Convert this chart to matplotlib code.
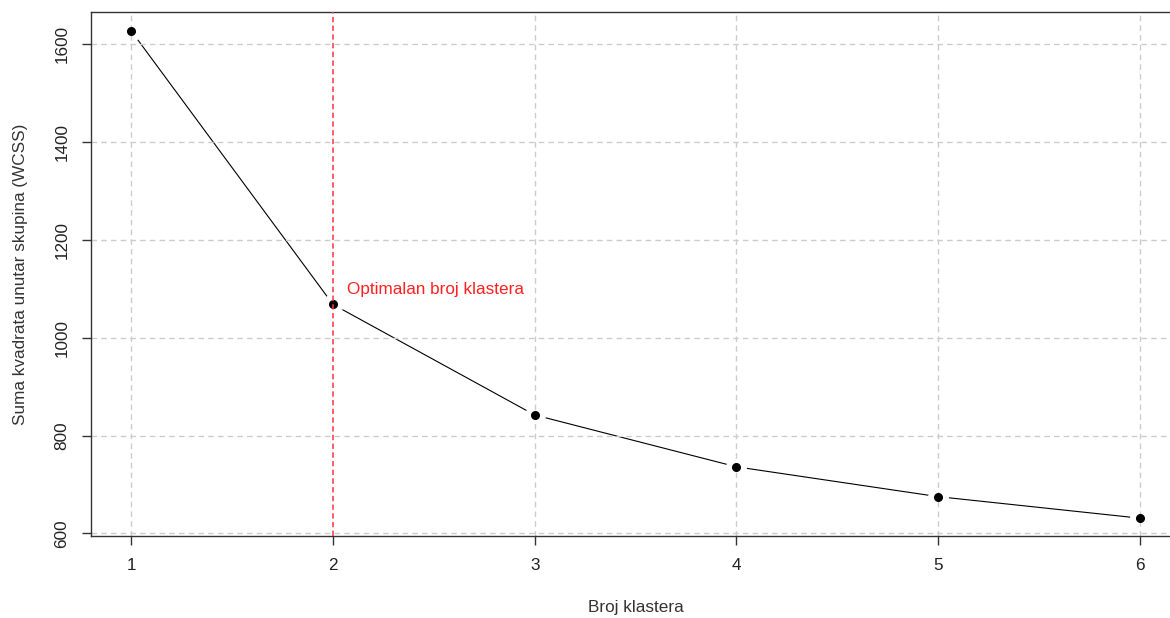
import matplotlib
matplotlib.use('Agg')
import matplotlib.pyplot as plt

# elbow data
k = [1, 2, 3, 4, 5, 6]
wcss = [1627, 1068, 842, 736, 675, 631]
x_ticks = [1, 2, 3, 4, 5, 6]
y_ticks = [600, 800, 1000, 1200, 1400, 1600]
optimal_k = 2

plt.rcParams['font.family'] = ['Liberation Sans', 'DejaVu Sans']
fs = 12.3

fig = plt.figure(figsize=(11.7, 6.18), dpi=100)
ax = fig.add_axes([91 / 1170, 82 / 618, 1089 / 1170, 524 / 618])

# line with gaps round the points, like R type="b"
ax.plot(k, wcss, color='black', lw=0.8, zorder=1)
ax.plot(k, wcss, 'o', ms=14, color='white', mec='white', zorder=1.5)

grid_kw = dict(color='#cccccc', lw=1, dashes=(4, 3), zorder=2)
for xv in x_ticks:
    if xv != optimal_k:  # red line sits on top of this one
        ax.axvline(xv, **grid_kw)
for yv in y_ticks:
    ax.axhline(yv, **grid_kw)

ax.plot(k, wcss, 'o', ms=5.5, color='black', zorder=3)
ax.axvline(optimal_k, color='#ff3344', lw=1.1, dashes=(3.5, 2.2), zorder=3.5)

ax.text(optimal_k + 0.067, wcss[optimal_k - 1] + 30, 'Optimalan broj klastera',
        color='#ff2020', fontsize=fs, ha='left', va='center')

ax.set_xlim(0.8, 6.2)
ax.set_ylim(594.5, 1666)
ax.set_xticks(x_ticks)
ax.set_yticks(y_ticks)
ax.set_xticklabels([str(v) for v in x_ticks])
ax.set_yticklabels([str(v) for v in y_ticks], rotation=90, va='center')
ax.tick_params(length=6.5, width=1, pad=9, labelsize=fs,
               colors='#333333', labelcolor='#222222')

for s in ax.spines.values():
    s.set_color('#333333')
    s.set_linewidth(1)

ax.set_xlabel('Broj klastera', fontsize=fs, color='#333333', labelpad=20)
ax.set_ylabel('Suma kvadrata unutar skupina (WCSS)', fontsize=fs,
              color='#333333', labelpad=19)

fig.savefig('out.png', dpi=100)
